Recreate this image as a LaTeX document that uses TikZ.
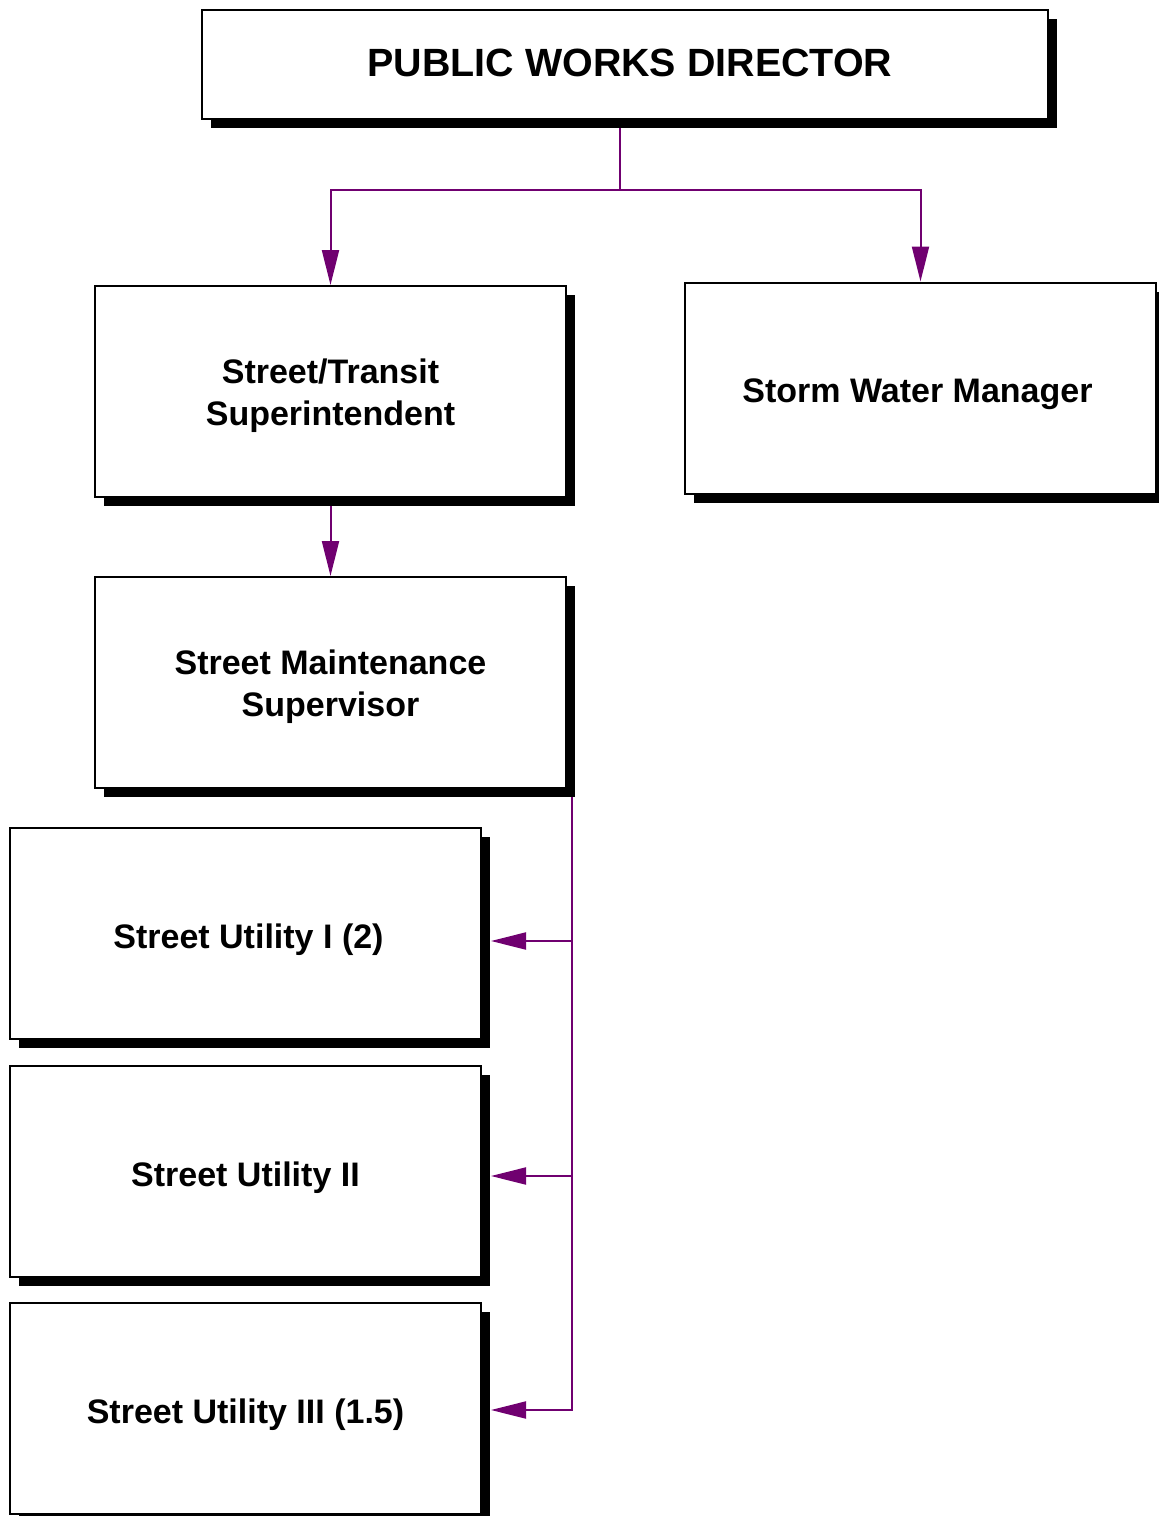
\documentclass[tikz,border=0pt]{standalone}
\usepackage{fontspec}
\setmainfont{Liberation Sans}
\usetikzlibrary{shadows,arrows.meta,calc,backgrounds}
\definecolor{linkpurple}{RGB}{112,0,112}

% two centred lines, baseline on the first line
\newcommand\twolines[2]{\parbox[t]{230pt}{\centering #1\\#2}}

\begin{document}
\begin{tikzpicture}[x=0.5pt,y=-0.5pt,
  box/.style={draw=black, line width=1pt, fill=white, align=center,
    font=\bfseries\fontsize{17}{21}\selectfont, inner sep=0pt,
    general shadow={fill=black, shadow xshift=4.5pt, shadow yshift=-4.5pt}},
  unit/.style={box, minimum width=235.5pt, minimum height=105.5pt,
    text height=14.7pt, text depth=0pt},
  pair/.style={unit, text height=0pt, text depth=8.5pt},
  conn/.style={draw=linkpurple, line width=1pt},
  arr/.style={conn, -{Triangle[length=17.5pt,width=8.5pt]}}]

  \useasboundingbox (0,0) rectangle (1158,1516);

  % positions
  \node[box, minimum width=423pt, minimum height=54.5pt, text height=12.1pt, text depth=0pt,
        font=\bfseries\fontsize{19.7}{24}\selectfont] (dir) at (625,64.5) {\hspace*{5pt}PUBLIC WORKS DIRECTOR};
  \node[pair] (sts) at (330.5,391.5) {\twolines{Street/Transit}{Superintendent}};
  \node[unit] (swm) at (920.5,388) {Storm Water Manager\hspace*{3pt}};
  \node[pair] (sms) at (330.5,682.5) {\twolines{Street Maintenance}{Supervisor}};
  \node[unit] (su1) at (245.5,933.5) {\hspace*{3pt}Street Utility I (2)};
  \node[unit] (su2) at (245.5,1171.5) {Street Utility II};
  \node[unit] (su3) at (245.5,1408.5) {Street Utility III (1.5)};

  % connectors
  \coordinate (j) at (620,190);
  \coordinate (bx) at ($(sms.south east)+(2.5pt,0)$);
  \coordinate (t1) at ($(su1.east)+(4.5pt,-3.75pt)$);
  \coordinate (t2) at ($(su2.east)+(4.5pt,-2.25pt)$);
  \coordinate (t3) at ($(su3.east)+(4.5pt,-0.75pt)$);

  \begin{scope}[on background layer]
    \draw[conn] (dir.south -| j) -- (j);
    \draw[arr] (j) -| (sts.north);
    \draw[arr] (j) -| (swm.north);
    \draw[arr] (sts.south) -- (sms.north);
    \draw[arr] (bx) |- (t3);
    \draw[arr] (bx |- t1) -- (t1);
    \draw[arr] (bx |- t2) -- (t2);
  \end{scope}
\end{tikzpicture}
\end{document}
